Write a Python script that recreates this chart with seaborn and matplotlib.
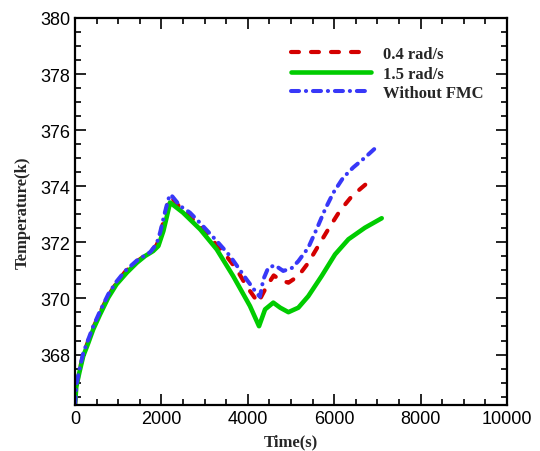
import numpy as np
import pandas as pd
import matplotlib
matplotlib.use("Agg")
import matplotlib.pyplot as plt
import seaborn as sns
from matplotlib.ticker import MultipleLocator

# Values
t_slow = [0, 30, 100, 190, 310, 420, 580, 770, 960, 1160, 1430, 1740, 1890, 1970,
          2080, 2160, 2220, 2470, 2800, 3125, 3450, 3740, 3970, 4240, 4440, 4600,
          4750, 4940, 5170, 5400, 5630, 5860, 6130, 6400, 6600, 6830]
temp_slow = [366.2, 366.88, 367.4, 368.0, 368.5, 368.95, 369.5, 370.1, 370.55, 370.95,
             371.32, 371.65, 371.9, 372.25, 372.95, 373.45, 373.62, 373.18, 372.72,
             372.17, 371.62, 371.04, 370.44, 369.85, 370.44, 370.82, 370.66, 370.56,
             370.8, 371.27, 371.87, 372.46, 373.12, 373.63, 373.9, 374.2]

t_fast = [0, 30, 100, 190, 310, 420, 580, 770, 960, 1200, 1430, 1620, 1810, 1930,
          2045, 2130, 2200, 2500, 2900, 3280, 3660, 4050, 4260, 4400, 4590, 4750,
          4940, 5170, 5400, 5710, 6020, 6330, 6710, 7100]
temp_fast = [366.2, 366.85, 367.35, 367.94, 368.42, 368.89, 369.43, 370.03, 370.5,
             370.92, 371.27, 371.51, 371.69, 371.87, 372.4, 372.95, 373.42, 373.06,
             372.46, 371.75, 370.8, 369.73, 369.01, 369.61, 369.85, 369.67, 369.51,
             369.67, 370.08, 370.8, 371.57, 372.11, 372.52, 372.86]

t_none = [0, 30, 100, 190, 310, 420, 580, 770, 960, 1160, 1430, 1740, 1890, 1970,
          2080, 2160, 2215, 2430, 2660, 2890, 3280, 3590, 3970, 4200, 4280, 4360,
          4475, 4630, 4820, 5015, 5170, 5400, 5590, 5790, 5980, 6210, 6440, 6710, 6980]
temp_none = [366.2, 366.9, 367.45, 368.05, 368.55, 369.0, 369.55, 370.15, 370.6,
             370.98, 371.35, 371.65, 371.95, 372.35, 373.06, 373.54, 373.71, 373.3,
             373.06, 372.7, 372.05, 371.51, 370.68, 370.2, 370.06, 370.68, 371.1,
             371.18, 370.98, 371.08, 371.33, 371.81, 372.46, 373.18, 373.77, 374.31,
             374.67, 375.02, 375.4]

labels = ["0.4 rad/s", "1.5 rad/s", "Without FMC"]
colors = ["#d40000", "#00cc00", "#3838f8"]

sns.set_style("ticks")
plt.rcParams["font.family"] = ["Liberation Sans", "DejaVu Sans"]

fig = plt.figure(figsize=(5.4, 4.52), dpi=100)
ax = fig.add_axes([75 / 540, 1 - 406 / 452, 432 / 540, 387 / 452])

series = [(t_slow, temp_slow), (t_fast, temp_fast), (t_none, temp_none)]
styles = [
    dict(linewidth=3.0, linestyle=(0, (1.9, 2.9)), dash_capstyle="round"),
    dict(linewidth=3.3, linestyle="-", solid_capstyle="round", solid_joinstyle="round"),
    dict(linewidth=2.9, linestyle=(0, (2.0, 1.7, 0.05, 1.7)), dash_capstyle="round"),
]
for (t, temp), lab, col, st in zip(series, labels, colors, styles):
    df = pd.DataFrame({"Time": t, "Temp": temp})
    sns.lineplot(data=df, x="Time", y="Temp", ax=ax, color=col, label=lab,
                 estimator=None, sort=False, **st)

ax.set_xlim(0, 10000)
ax.set_ylim(366.2, 380)
ax.xaxis.set_major_locator(MultipleLocator(2000))
ax.xaxis.set_minor_locator(MultipleLocator(500))
ax.yaxis.set_major_locator(MultipleLocator(2))
ax.yaxis.set_minor_locator(MultipleLocator(0.5))
ax.tick_params(which="both", direction="in", top=True, right=True, width=1.2,
               labelsize=13, colors="black")
ax.tick_params(which="major", length=8)
ax.tick_params(which="minor", length=4.5)
for sp in ax.spines.values():
    sp.set_linewidth(1.6)
    sp.set_color("black")

serif_bold = dict(family="Liberation Serif", weight="bold", size=12)
ax.set_xlabel("Time(s)", fontdict=serif_bold, labelpad=5)
ax.set_ylabel("Temperature(k)", fontdict=serif_bold, labelpad=7)

leg = ax.legend(loc="upper left", bbox_to_anchor=(0.499, 0.927), frameon=False,
                prop=dict(family="Liberation Serif", weight="bold", size=12),
                handlelength=4.8, handletextpad=0.75, labelspacing=0.2,
                borderpad=0, borderaxespad=0)

fig.savefig("out.png", dpi=100)
